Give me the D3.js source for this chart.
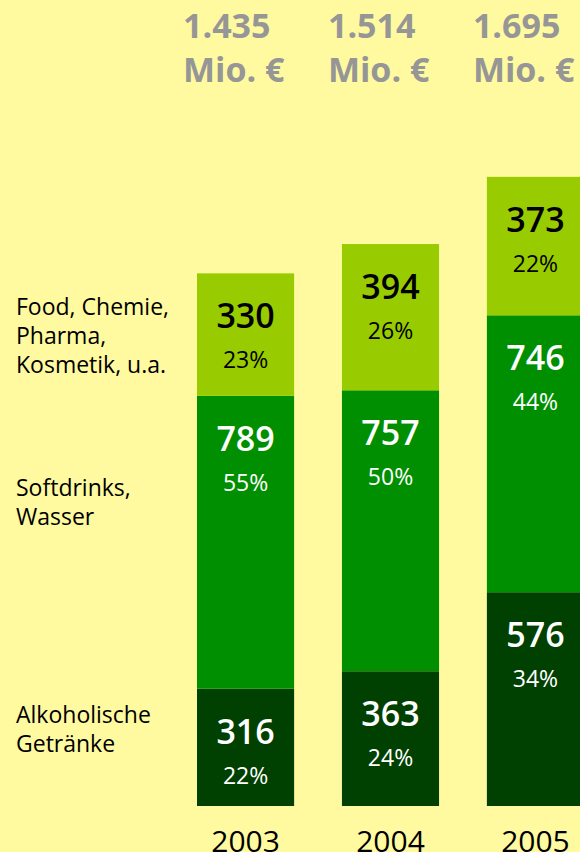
<!DOCTYPE html>
<html>
<head>
<meta charset="utf-8">
<script src="https://cdn.jsdelivr.net/npm/d3@7"></script>
<style>
  html, body { margin: 0; padding: 0; background: #fffaa0; }
  svg { display: block; font-family: "Open Sans", "Noto Sans", sans-serif; }
</style>
</head>
<body>
<div id="chart"></div>
<script>
////// DATA

// Jahre und Gesamtsummen
var years = ["2003", "2004", "2005"];
var totals = ["1.435", "1.514", "1.695"];

// Segmente von unten nach oben
var categories = ["Alkoholische Getränke", "Softdrinks, Wasser", "Food, Chemie, Pharma, Kosmetik, u.a."];
var alkohol = [316, 363, 576];
var softdrinks = [789, 757, 746];
var food = [330, 394, 373];
var alkoholPct = ["22%", "24%", "34%"];
var softdrinksPct = ["55%", "50%", "44%"];
var foodPct = ["23%", "26%", "22%"];

// Legendentexte, zeilenweise
var legendLines = [["Alkoholische", "Getränke"], ["Softdrinks,", "Wasser"], ["Food, Chemie,", "Pharma,", "Kosmetik, u.a."]];

////// CHART

var width = 580, height = 852;
var colors = ["#004000", "#008f00", "#99cc00"];
var textColors = ["#ffffff", "#ffffff", "#000000"];

var svg = d3.select("#chart").append("svg")
  .attr("width", width)
  .attr("height", height);

svg.append("rect")
  .attr("width", width)
  .attr("height", height)
  .style("fill", "#fffaa0");

var x = d3.scaleBand()
  .domain(years)
  .range([197, 584])
  .paddingInner(0.33)
  .paddingOuter(0);

var y = d3.scaleLinear()
  .domain([0, 1700])
  .range([806, 175]);

// Tabelle für d3.stack bauen
var table = years.map(function(yr, i) {
  return { year: yr, alkohol: alkohol[i], softdrinks: softdrinks[i], food: food[i],
           pct: [alkoholPct[i], softdrinksPct[i], foodPct[i]] };
});

var stack = d3.stack().keys(["alkohol", "softdrinks", "food"]);
var series = stack(table);

// Balkensegmente
var layers = svg.selectAll("g.layer")
  .data(series)
  .enter().append("g")
  .attr("class", "layer")
  .style("fill", function(d, i) { return colors[i]; });

layers.selectAll("rect")
  .data(function(d) { return d; })
  .enter().append("rect")
  .attr("x", function(d) { return x(d.data.year); })
  .attr("y", function(d) { return y(d[1]); })
  .attr("width", x.bandwidth())
  .attr("height", function(d) { return y(d[0]) - y(d[1]); });

// Werte und Prozente in den Segmenten
series.forEach(function(s, si) {
  s.forEach(function(d) {
    var cx = x(d.data.year) + x.bandwidth() / 2;
    var top = y(d[1]);
    svg.append("text")
      .attr("x", cx)
      .attr("y", top + 55)
      .attr("text-anchor", "middle")
      .style("font-size", "34px")
      .style("font-weight", 600)
      .style("fill", textColors[si])
      .text(d[1] - d[0]);
    svg.append("text")
      .attr("x", cx)
      .attr("y", top + 95)
      .attr("text-anchor", "middle")
      .style("font-size", "23px")
      .style("fill", textColors[si])
      .text(d.data.pct[si]);
  });
});

// Gesamtsummen oben
years.forEach(function(yr, i) {
  var tx = x(yr) - 14;
  var t = svg.append("text")
    .attr("x", tx)
    .attr("y", 38)
    .style("font-size", "34px")
    .style("font-weight", 700)
    .style("fill", "#969696");
  t.append("tspan").attr("x", tx).text(totals[i]);
  t.append("tspan").attr("x", tx).attr("dy", 44).text("Mio. €");
});

// Jahreszahlen unten
svg.selectAll("text.year")
  .data(years)
  .enter().append("text")
  .attr("class", "year")
  .attr("x", function(d) { return x(d) + x.bandwidth() / 2; })
  .attr("y", 852)
  .attr("text-anchor", "middle")
  .style("font-size", "30px")
  .style("fill", "#000")
  .text(function(d) { return d; });

// Legende links, an den Segmenten von 2003 ausgerichtet
var firstBar = series.map(function(s) { return s[0]; });
var legendOffset = [34, 100, 42];
legendLines.forEach(function(lines, i) {
  var top = y(firstBar[i][1]);
  var t = svg.append("text")
    .attr("x", 16)
    .attr("y", top + legendOffset[i])
    .style("font-size", "23px")
    .style("fill", "#000");
  lines.forEach(function(line, j) {
    t.append("tspan").attr("x", 16).attr("dy", j === 0 ? 0 : 29).text(line);
  });
});
</script>
</body>
</html>
